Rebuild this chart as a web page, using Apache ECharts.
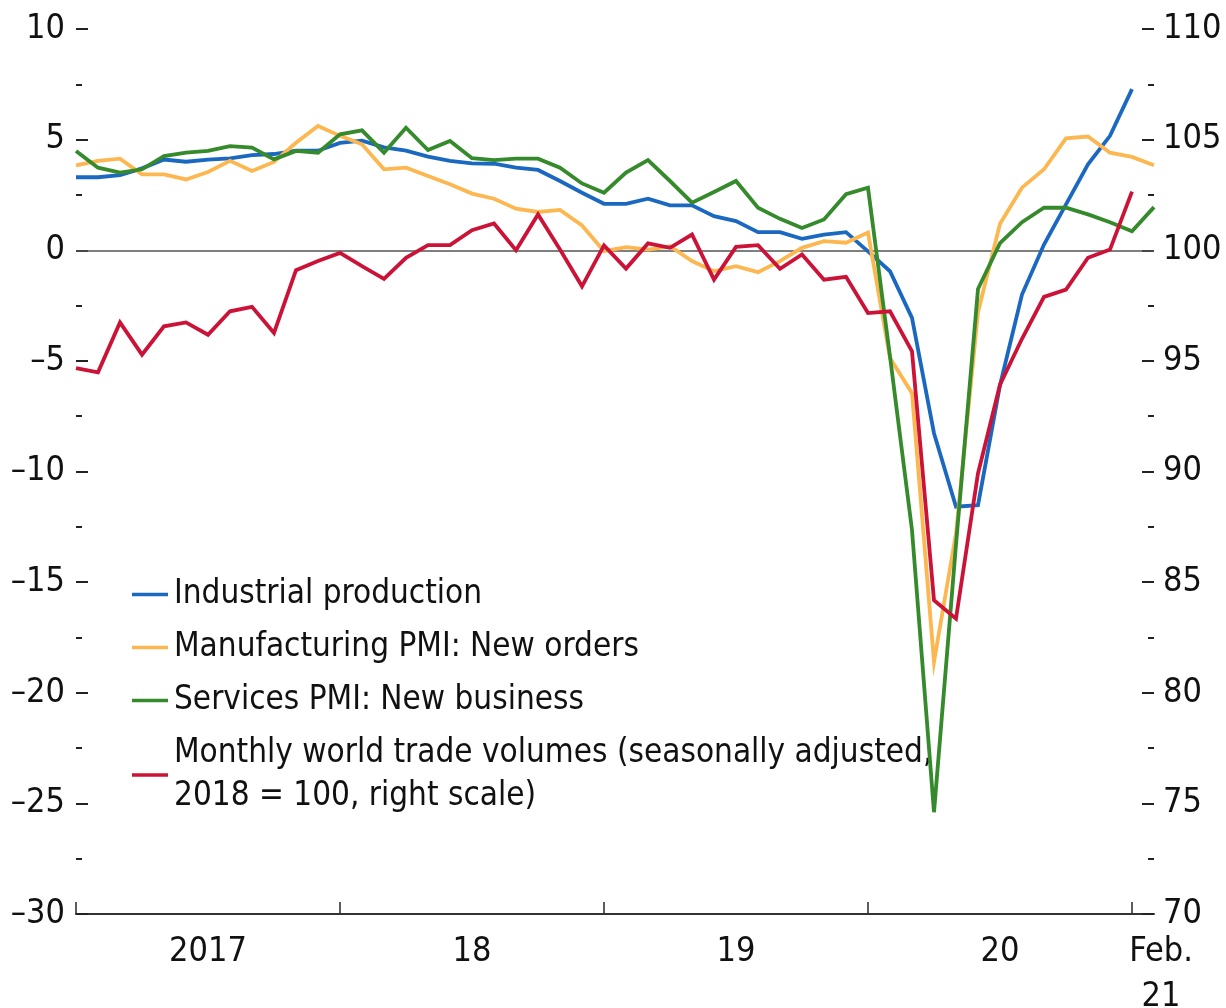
<!DOCTYPE html>
<html>
<head>
<meta charset="utf-8">
<script src="https://cdn.jsdelivr.net/npm/echarts@6/dist/echarts.min.js"></script>
<style>
  html, body { margin: 0; padding: 0; background: #ffffff; }
  #chart { width: 1226px; height: 1008px; }
</style>
</head>
<body>
<div id="chart"></div>
<script>
// Monthly categories, Jan 2017 – Feb 2021
const months = ['Jan','Feb','Mar','Apr','May','Jun','Jul','Aug','Sep','Oct','Nov','Dec'];
const categories = [];
for (let y = 2017; y <= 2021; y++) {
  for (let m = 0; m < 12; m++) {
    if (y === 2021 && m > 1) break;
    categories.push(months[m] + ' ' + y);
  }
}
const yearLabels = ['2017', '18', '19', '20'];
const lastLabel = 'Feb.\n21';

const seriesNames = [
  'Industrial production',
  'Manufacturing PMI: New orders',
  'Services PMI: New business',
  'Monthly world trade volumes'
];
const legendTexts = [
  'Industrial production',
  'Manufacturing PMI: New orders',
  'Services PMI: New business',
  'Monthly world trade volumes (seasonally adjusted,\n2018 = 100, right scale)'
];

// Left scale (percent), Jan 2017 – Jan 2021
const industrialProduction = [
  3.3, 3.3, 3.4, 3.7, 4.1, 4.0, 4.1, 4.15, 4.3, 4.35, 4.5, 4.5,
  4.85, 4.95, 4.65, 4.5, 4.23, 4.04, 3.93, 3.91, 3.73, 3.63, 3.13, 2.6,
  2.1, 2.1, 2.33, 2.03, 2.03, 1.54, 1.32, 0.82, 0.82, 0.52, 0.71, 0.82,
  -0.05, -0.95, -3.06, -8.27, -11.59, -11.52, -6.1, -2.0, 0.26, 2.07, 3.88, 5.17,
  7.28
];
// Left scale, Jan 2017 – Feb 2021
const manufacturingPMI = [
  3.84, 4.04, 4.14, 3.43, 3.43, 3.2, 3.54, 4.04, 3.58, 3.99, 4.86, 5.62,
  5.17, 4.79, 3.66, 3.73, 3.36, 2.98, 2.56, 2.33, 1.88, 1.73, 1.82, 1.12,
  -0.04, 0.14, 0.03, 0.18, -0.49, -0.95, -0.72, -0.99, -0.49, 0.11, 0.41, 0.34,
  0.8, -4.87, -6.46, -18.6, -12.8, -2.8, 1.2, 2.83, 3.66, 5.06, 5.14, 4.41,
  4.22, 3.84
];
const servicesPMI = [
  4.49, 3.73, 3.51, 3.66, 4.26, 4.41, 4.49, 4.71, 4.64, 4.11, 4.49, 4.41,
  5.24, 5.42, 4.41, 5.54, 4.53, 4.94, 4.16, 4.07, 4.14, 4.14, 3.73, 3.02,
  2.6, 3.51, 4.07, 3.13, 2.15, 2.63, 3.13, 1.92, 1.42, 1.01, 1.39, 2.53,
  2.83, -4.8, -12.65, -25.4, -13.3, -1.75, 0.32, 1.27, 1.92, 1.92, 1.62, 1.27,
  0.86, 1.95
];
// Right scale (2018 = 100), Jan 2017 – Jan 2021
const tradeVolumes = [
  94.67, 94.48, 96.74, 95.28, 96.56, 96.74, 96.18, 97.24, 97.44, 96.26, 99.1, 99.51,
  99.88, 99.28, 98.71, 99.66, 100.23, 100.23, 100.91, 101.21, 100.0, 101.62, 100.03, 98.37,
  100.22, 99.17, 100.31, 100.11, 100.71, 98.67, 100.15, 100.23, 99.16, 99.81, 98.67, 98.8,
  97.16, 97.24, 95.43, 84.18, 83.35, 89.92, 93.92, 96.0, 97.89, 98.22, 99.66, 100.03,
  102.65
];

const colors = ['#1b68c1', '#fdb751', '#358a2c', '#cb1337'];
const FONT = "'Liberation Sans Narrow', 'DejaVu Sans Condensed', 'Arial Narrow', sans-serif";
const TICK_SIZE = 34;
const LEGEND_SIZE = 33;
const minus = v => (v < 0 ? '\u2013' + Math.abs(v) : String(v));

const chart = echarts.init(document.getElementById('chart'), null, { renderer: 'canvas' });

function lineSeries(i, data, axisIndex) {
  return {
    name: seriesNames[i],
    type: 'line',
    yAxisIndex: axisIndex,
    data: data,
    showSymbol: false,
    symbol: 'none',
    smooth: false,
    z: 3 + i,
    lineStyle: { color: colors[i], width: 3.8, join: 'miter' },
    itemStyle: { color: colors[i] }
  };
}

const s0 = lineSeries(0, industrialProduction, 0);
s0.markLine = {
  silent: true,
  symbol: ['none', 'none'],
  label: { show: false },
  lineStyle: { color: '#555', width: 1.6, type: 'solid' },
  data: [{ yAxis: 0 }],
  z: 1
};

const option = {
  animation: false,
  backgroundColor: '#ffffff',
  textStyle: { fontFamily: FONT, color: '#111' },
  grid: { left: 76, right: 72, top: 29, bottom: 94, containLabel: false, outerBoundsMode: 'none' },
  legend: {
    orient: 'vertical',
    left: 127,
    top: 568,
    itemWidth: 36,
    itemHeight: 3.5,
    itemGap: 10,
    icon: 'rect',
    data: seriesNames,
    formatter: name => legendTexts[seriesNames.indexOf(name)],
    textStyle: {
      fontFamily: FONT, fontSize: LEGEND_SIZE, lineHeight: 43, color: '#111',
      padding: [0, 0, 0, 1]
    },
    selectedMode: false
  },
  xAxis: {
    type: 'category',
    data: categories,
    boundaryGap: false,
    axisLine: { show: true, onZero: false, lineStyle: { color: '#333', width: 2 } },
    axisTick: {
      show: true, inside: true, length: 12,
      interval: (idx) => idx % 12 === 0,
      lineStyle: { color: '#333', width: 1.6 }
    },
    axisLabel: {
      show: true,
      interval: (idx) => idx === categories.length - 1 || idx % 12 === 6,
      formatter: (val, idx) => {
        if (idx === categories.length - 1) return '{e|' + lastLabel + '}';
        return yearLabels[Math.floor(idx / 12)];
      },
      rich: {
        e: { fontFamily: FONT, fontSize: TICK_SIZE, lineHeight: 45, color: '#111', padding: [0, 0, 0, 14] }
      },
      fontFamily: FONT, fontSize: TICK_SIZE, lineHeight: 45, color: '#111',
      margin: 16
    },
    splitLine: { show: false }
  },
  yAxis: [
    {
      type: 'value', position: 'left',
      min: -30, max: 10, interval: 5,
      axisLine: { show: false },
      axisTick: { show: true, inside: true, length: 12, lineStyle: { color: '#222', width: 2 } },
      minorTick: { show: true, splitNumber: 2, length: 6, lineStyle: { color: '#222', width: 2 } },
      axisLabel: { formatter: minus, fontFamily: FONT, fontSize: TICK_SIZE, color: '#111', margin: 11 },
      splitLine: { show: false }
    },
    {
      type: 'value', position: 'right',
      min: 70, max: 110, interval: 5,
      axisLine: { show: false },
      axisTick: { show: true, inside: true, length: 12, lineStyle: { color: '#222', width: 2 } },
      minorTick: { show: true, splitNumber: 2, length: 6, lineStyle: { color: '#222', width: 2 } },
      axisLabel: { fontFamily: FONT, fontSize: TICK_SIZE, color: '#111', margin: 9 },
      splitLine: { show: false }
    }
  ],
  series: [
    s0,
    lineSeries(1, manufacturingPMI, 0),
    lineSeries(2, servicesPMI, 0),
    lineSeries(3, tradeVolumes, 1)
  ]
};

chart.setOption(option);
</script>
</body>
</html>
